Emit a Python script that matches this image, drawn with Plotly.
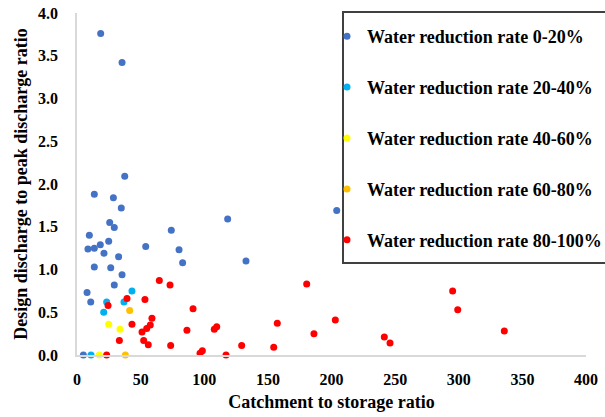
import plotly.graph_objects as go

# Data
blue_x = [18.6, 35.4, 37.5, 13.6, 28.6, 34.8, 25.7, 29.3, 9.7, 74.1, 8.6, 13.6, 18.3, 24.9,
          21.2, 32.7, 54.0, 80.2, 83.0, 13.6, 26.5, 35.4, 29.3, 7.9, 10.8, 5.0,
          118.4, 132.8, 204.1]
blue_y = [3.76, 3.42, 2.09, 1.88, 1.84, 1.72, 1.55, 1.49, 1.40, 1.46, 1.24, 1.25, 1.29, 1.33,
          1.19, 1.15, 1.27, 1.23, 1.08, 1.03, 1.02, 0.94, 0.82, 0.73, 0.62, 0.0,
          1.59, 1.10, 1.69]
cyan_x = [43.2, 23.3, 36.9, 21.0, 11.0]
cyan_y = [0.75, 0.62, 0.62, 0.50, 0.0]
yellow_x = [24.9, 33.8, 17.5]
yellow_y = [0.36, 0.30, 0.0]
orange_x = [41.4, 38.0]
orange_y = [0.52, 0.0]
red_x = [23.3, 39.3, 24.4, 53.4, 64.7, 73.1, 91.2, 58.9, 57.6, 43.2, 54.8, 51.1, 86.4, 33.3,
         52.4, 56.0, 73.6, 96.7, 98.5, 107.9, 109.8, 117.1, 129.4, 157.4, 154.6, 180.5,
         186.2, 203.0, 295.2, 299.2, 241.5, 246.0, 335.8]
red_y = [0.0, 0.66, 0.58, 0.65, 0.87, 0.82, 0.54, 0.43, 0.35, 0.36, 0.31, 0.27, 0.29, 0.17,
         0.17, 0.12, 0.11, 0.02, 0.05, 0.30, 0.33, 0.0, 0.11, 0.37, 0.09, 0.83,
         0.25, 0.41, 0.75, 0.53, 0.21, 0.14, 0.28]

series = [
    ("Water reduction rate 0-20%", blue_x, blue_y, "#4472C4"),
    ("Water reduction rate 20-40%", cyan_x, cyan_y, "#00B0F0"),
    ("Water reduction rate 40-60%", yellow_x, yellow_y, "#FFFF00"),
    ("Water reduction rate 60-80%", orange_x, orange_y, "#FFC000"),
    ("Water reduction rate 80-100%", red_x, red_y, "#FF0000"),
]

FONT = "Times New Roman, Liberation Serif, serif"

fig = go.Figure()
for i, (name, xs, ys, col) in enumerate(series):
    fig.add_trace(go.Scatter(
        x=xs, y=ys, mode="markers", name=name, legendgroup=str(i),
        marker=dict(color=col, size=7, line=dict(width=0)),
        cliponaxis=False,
    ))

# plot area: x 77..586 px, y 13..355 px
PW, PH = 509.0, 342.0
def px(xpix):
    return (xpix - 77) / PW
def py(ypix):
    return (355 - ypix) / PH

fig.update_layout(
    width=605, height=417,
    margin=dict(l=77, r=19, t=13, b=62, autoexpand=False),
    paper_bgcolor="white", plot_bgcolor="white",
    font=dict(family=FONT, size=15, color="#000000"),
    showlegend=True,
    legend=dict(
        x=px(327), y=py(18), xanchor="left", yanchor="top",
        borderwidth=0, bgcolor="rgba(0,0,0,0)",
        font=dict(family=FONT, size=18, color="#000000", weight="bold"),
        traceorder="grouped", tracegroupgap=24.5,
        itemsizing="trace", maxheight=400,
    ),
    shapes=[dict(
        type="rect", xref="paper", yref="paper",
        x0=px(343), x1=px(640), y0=py(263), y1=py(12),
        line=dict(color="#404040", width=2), fillcolor="white", layer="below",
    )],
    xaxis=dict(
        range=[0, 400], tickvals=[0, 50, 100, 150, 200, 250, 300, 350, 400],
        showgrid=False, zeroline=False, showline=True, linecolor="#D9D9D9", linewidth=1.5,
        ticks="", ticklabelstandoff=9,
        tickfont=dict(family=FONT, size=16, weight="bold"),
        title=dict(text="Catchment to storage ratio", standoff=8,
                   font=dict(family=FONT, size=18, weight="bold")),
    ),
    yaxis=dict(
        range=[0, 4], tickvals=[0, 0.5, 1, 1.5, 2, 2.5, 3, 3.5, 4], tickformat=".1f",
        showgrid=False, zeroline=False, showline=True, linecolor="#D9D9D9", linewidth=1.5,
        ticks="", ticklabelstandoff=14,
        tickfont=dict(family=FONT, size=16, weight="bold"),
        title=dict(text="Design discharge to peak discharge ratio", standoff=6,
                   font=dict(family=FONT, size=18, weight="bold")),
    ),
)

fig.write_html("out.html")
